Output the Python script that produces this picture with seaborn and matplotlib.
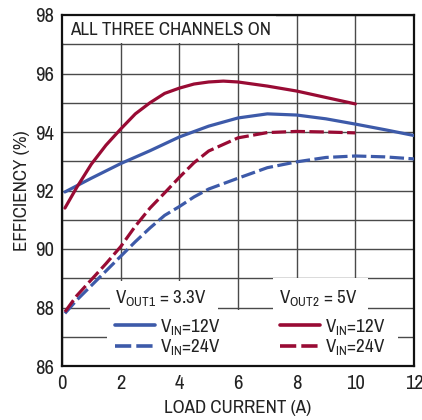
import matplotlib
matplotlib.use("Agg")
import matplotlib.pyplot as plt
import seaborn as sns
import pandas as pd
from matplotlib.patches import Rectangle
from matplotlib.lines import Line2D
from matplotlib.ticker import MultipleLocator

# ---- data ----
x_b12 = [0.1, 1, 2, 3, 4, 5, 6, 7, 8, 9, 10, 11, 12]
y_b12 = [91.95, 92.42, 92.92, 93.36, 93.83, 94.2, 94.48, 94.62, 94.58, 94.45, 94.27, 94.08, 93.88]

x_b24 = [0.1, 0.5, 1, 1.5, 2, 2.5, 3, 3.5, 4, 4.5, 5, 6, 7, 8, 9, 10, 11, 12]
y_b24 = [87.8, 88.25, 88.75, 89.25, 89.75, 90.25, 90.72, 91.15, 91.45, 91.78, 92.05, 92.42, 92.78, 92.98, 93.13, 93.18, 93.15, 93.08]

x_r12 = [0.1, 0.5, 1, 1.5, 2, 2.5, 3, 3.5, 4, 4.5, 5, 5.5, 6, 7, 8, 9, 10]
y_r12 = [91.4, 92.1, 92.9, 93.55, 94.1, 94.62, 95.0, 95.32, 95.5, 95.64, 95.71, 95.74, 95.71, 95.57, 95.4, 95.18, 94.96]

x_r24 = [0.1, 0.5, 1, 1.5, 2, 2.5, 3, 3.5, 4, 4.5, 5, 6, 7, 8, 9, 10]
y_r24 = [87.85, 88.4, 88.95, 89.5, 90.08, 90.78, 91.4, 91.92, 92.45, 92.95, 93.35, 93.8, 93.98, 94.02, 94.0, 93.97]

x_ticks = [0, 2, 4, 6, 8, 10, 12]
y_ticks = [86, 88, 90, 92, 94, 96, 98]

BLUE = "#3d5aa9"
RED = "#990b34"

frames = []
for xs, ys, vout, vin in [(x_b12, y_b12, "3.3V", "12V"), (x_b24, y_b24, "3.3V", "24V"),
                          (x_r12, y_r12, "5V", "12V"), (x_r24, y_r24, "5V", "24V")]:
    frames.append(pd.DataFrame({"current": xs, "eff": ys, "vout": vout, "vin": vin}))
df = pd.concat(frames, ignore_index=True)

sns.set_theme(style="white")
FONT = "Archivo Narrow"
plt.rcParams["font.family"] = [FONT, "Liberation Sans", "DejaVu Sans"]
plt.rcParams["mathtext.fontset"] = "custom"
plt.rcParams["mathtext.rm"] = FONT
plt.rcParams["mathtext.it"] = FONT
plt.rcParams["mathtext.bf"] = FONT
plt.rcParams["mathtext.default"] = "rm"

TXT = "#222222"
FS = 13.6
FST = 14.8

fig = plt.figure(figsize=(4.22, 4.2), dpi=100)
ax = fig.add_axes([62 / 422, 1 - 366 / 420, 352 / 422, 351 / 420])

DASH = (4.5, 1.4)
sns.lineplot(data=df, x="current", y="eff", hue="vout", style="vin",
             palette={"3.3V": BLUE, "5V": RED},
             dashes={"12V": "", "24V": DASH},
             linewidth=2.3, legend=False, ax=ax, sort=False, estimator=None,
             zorder=3)

ax.set_xlim(0, 12)
ax.set_ylim(86, 98)
ax.set_xticks(x_ticks)
ax.set_yticks(y_ticks)
ax.yaxis.set_minor_locator(MultipleLocator(1))
ax.grid(True, which="both", color="#4a4a4a", linewidth=1.0)
ax.set_axisbelow(True)
ax.tick_params(axis="both", which="both", length=0, labelsize=FST, colors=TXT, pad=6)
for s in ax.spines.values():
    s.set_color("#111111")
    s.set_linewidth(1.6)
    s.set_visible(True)

ax.set_xlabel("LOAD CURRENT (A)", fontsize=FS, color=TXT, labelpad=5)
ax.set_ylabel("EFFICIENCY (%)", fontsize=FS, color=TXT, labelpad=3)

# white boxes that hide the grid behind annotations
def wbox(x0, y0, x1, y1):
    ax.add_patch(Rectangle((x0, y0), x1 - x0, y1 - y0, transform=ax.transAxes,
                           facecolor="white", edgecolor="none", zorder=1.5))

wbox(0.0, 0.920, 0.608, 1.0)          # title box
wbox(0.1278, 0.0, 0.9545, 0.1595)     # legend entries
wbox(0.136, 0.155, 0.443, 0.243)      # VOUT1 header
wbox(0.599, 0.155, 0.868, 0.25)       # VOUT2 header

ax.text(0.0227, 0.957, "ALL THREE CHANNELS ON", transform=ax.transAxes,
        fontsize=FS, color=TXT, va="center", ha="left", zorder=4)

ax.text(0.1506, 0.1795, r"V$_{\mathrm{OUT1}}$ = 3.3V", transform=ax.transAxes,
        fontsize=FS, color=TXT, va="baseline", ha="left", zorder=4)
ax.text(0.6165, 0.1795, r"V$_{\mathrm{OUT2}}$ = 5V", transform=ax.transAxes,
        fontsize=FS, color=TXT, va="baseline", ha="left", zorder=4)

def entries(color):
    return [Line2D([], [], color=color, lw=2.6, ls="-"),
            Line2D([], [], color=color, lw=2.6, ls=(0, DASH))]

labels = [r"V$_{\mathrm{IN}}$=12V", r"V$_{\mathrm{IN}}$=24V"]
leg_kw = dict(loc="center left", frameon=False, fontsize=FS, handlelength=2.12,
              handletextpad=0.26, labelspacing=0.05, borderpad=0, borderaxespad=0,
              labelcolor=TXT)
leg1 = ax.legend(entries(BLUE), labels, bbox_to_anchor=(0.1506, 0.0826), **leg_kw)
ax.add_artist(leg1)
leg2 = ax.legend(entries(RED), labels, bbox_to_anchor=(0.619, 0.0826), **leg_kw)
leg1.set_zorder(5)
leg2.set_zorder(5)

fig.savefig("out.png", dpi=100)
